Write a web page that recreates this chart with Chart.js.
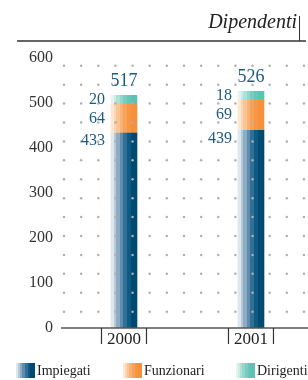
<!DOCTYPE html>
<html>
<head>
<meta charset="utf-8">
<script src="https://cdn.jsdelivr.net/npm/chart.js@4.4.0/dist/chart.umd.min.js"></script>
<style>
  html, body { margin: 0; padding: 0; background: #fff; }
  #wrap { width: 308px; height: 380px; position: relative; }
</style>
</head>
<body>
<div id="wrap"><canvas id="chart"></canvas></div>
<script>
// Chart data
const years = ['2000', '2001']
const impiegati = [433, 439]
const funzionari = [64, 69]
const dirigenti = [20, 18]
const seriesNames = ['Impiegati', 'Funzionari', 'Dirigenti']
const yTicks = [0, 100, 200, 300, 400, 500, 600]
const chartTitle = 'Dipendenti'

// Striped fills, light on the left to dark on the right
const stripes = [
  ['#dfe7ee', '#b6cadb', '#8eabc4', '#5e8dae', '#316f97', '#0d5a83', '#004a71'],
  ['#fde7d1', '#fcd6b2', '#fbc493', '#f9b273', '#f8a257', '#f79746', '#f5913c'],
  ['#e4f5f1', '#c9ece5', '#ace1d8', '#91d7ca', '#78cdbf', '#66c6b7', '#5cc2b3'],
]
const stripeWidths = [0.1, 0.1, 0.14, 0.14, 0.14, 0.14, 0.24]

const serif = '"Liberation Serif", "DejaVu Serif", serif'
const valueColor = '#1d5a80'
const barWidth = 26

function stripeFill(ctx, colors, x0, x1) {
  let g = ctx.createLinearGradient(x0, 0, x1, 0)
  let pos = 0
  colors.forEach((c, i) => {
    g.addColorStop(pos, c)
    pos = Math.min(1, pos + stripeWidths[i])
    g.addColorStop(pos, c)
  })
  return g
}

function barFill(colors) {
  return (c) => {
    let xs = c.chart.scales.x
    if (!xs || c.dataIndex === undefined) return colors[colors.length - 1]
    let cx = xs.getPixelForValue(c.dataIndex)
    if (!Number.isFinite(cx)) return colors[colors.length - 1]
    return stripeFill(c.chart.ctx, colors, cx - barWidth / 2, cx + barWidth / 2)
  }
}

const seriesData = [impiegati, funzionari, dirigenti]

// Decorations, labels and legend
const decorations = {
  id: 'decorations',
  afterDatasetsDraw(chart) {
    let ctx = chart.ctx
    let area = chart.chartArea
    let xs = chart.scales.x
    let ys = chart.scales.y
    ctx.save()

    // dotted background grid (drawn over the bars, as in the print)
    ctx.fillStyle = '#b0b0b0'
    for (let y = area.bottom - 16.3; y > area.top + 3; y -= 18.92) {
      for (let x = area.left + 3; x < area.right; x += 17.14) {
        ctx.beginPath()
        ctx.arc(x, y, 1.25, 0, Math.PI * 2)
        ctx.fill()
      }
    }

    // zero line
    let y0 = ys.getPixelForValue(0)
    ctx.strokeStyle = '#555'
    ctx.lineWidth = 1.5
    ctx.beginPath()
    ctx.moveTo(area.left, y0)
    ctx.lineTo(chart.width, y0)
    ctx.stroke()

    // value labels
    years.forEach((yr, i) => {
      let cx = xs.getPixelForValue(i)
      let left = cx - barWidth / 2
      ctx.fillStyle = valueColor
      ctx.textBaseline = 'middle'
      ctx.textAlign = 'right'
      ctx.font = '16px ' + serif
      let base = 0
      seriesData.forEach((arr, s) => {
        let top = ys.getPixelForValue(base + arr[i])
        let bot = ys.getPixelForValue(base)
        let ly = s === 0 ? top + 8 : (top + bot) / 2
        ctx.fillText(String(arr[i]), left - 6, ly)
        base += arr[i]
      })
      ctx.textAlign = 'center'
      ctx.font = '18px ' + serif
      ctx.fillText(String(base), cx, ys.getPixelForValue(base) - 14)

      // year label with brackets
      ctx.fillStyle = '#222'
      ctx.font = '17px ' + serif
      ctx.fillText(yr, cx, y0 + 11.5)
      ctx.strokeStyle = '#333'
      ctx.lineWidth = 1.2
      ctx.beginPath()
      ctx.moveTo(cx - 22.5, y0)
      ctx.lineTo(cx - 22.5, y0 + 16)
      ctx.moveTo(cx + 22.5, y0)
      ctx.lineTo(cx + 22.5, y0 + 16)
      ctx.stroke()
    })

    // title with rule
    ctx.fillStyle = '#222'
    ctx.font = 'italic 20px ' + serif
    ctx.textAlign = 'right'
    ctx.textBaseline = 'alphabetic'
    ctx.fillText(chartTitle, 297, 28)
    ctx.strokeStyle = '#666'
    ctx.lineWidth = 2
    ctx.beginPath()
    ctx.moveTo(17, 41)
    ctx.lineTo(306, 41)
    ctx.stroke()
    ctx.strokeStyle = '#333'
    ctx.lineWidth = 1
    ctx.beginPath()
    ctx.moveTo(299.5, 16)
    ctx.lineTo(299.5, 41)
    ctx.stroke()

    // legend
    let legendX = [16, 123, 236]
    ctx.font = '14px ' + serif
    ctx.textAlign = 'left'
    ctx.textBaseline = 'middle'
    seriesNames.forEach((name, s) => {
      let lx = legendX[s]
      ctx.fillStyle = stripeFill(ctx, stripes[s], lx, lx + 19)
      ctx.fillRect(lx, 363, 19, 15)
      ctx.fillStyle = '#222'
      ctx.fillText(name, lx + 21, 371)
    })

    ctx.restore()
  }
}

new Chart(document.getElementById('chart'), {
  type: 'bar',
  data: {
    datasets: seriesNames.map((name, s) => ({
      label: name,
      data: seriesData[s].map((v, i) => ({ x: i, y: v })),
      backgroundColor: barFill(stripes[s]),
      borderWidth: 0,
      barThickness: barWidth,
    }))
  },
  options: {
    responsive: true,
    maintainAspectRatio: false,
    animation: false,
    events: [],
    layout: { padding: { top: 58, bottom: 52, left: 0, right: 0 } },
    plugins: {
      legend: { display: false },
      tooltip: { enabled: false },
      title: { display: false },
    },
    scales: {
      x: {
        type: 'linear',
        min: -0.496,
        max: 1.449,
        offset: false,
        stacked: true,
        display: false,
      },
      y: {
        stacked: true,
        min: 0,
        max: 600,
        afterFit: (s) => { s.width = 61 },
        afterBuildTicks: (s) => { s.ticks = yTicks.map((v) => ({ value: v })) },
        grid: { display: false, drawTicks: false },
        border: { display: false },
        ticks: {
          padding: 8,
          color: '#333',
          font: { family: serif, size: 16 },
        },
      },
    },
  },
  plugins: [decorations],
})
</script>
</body>
</html>
